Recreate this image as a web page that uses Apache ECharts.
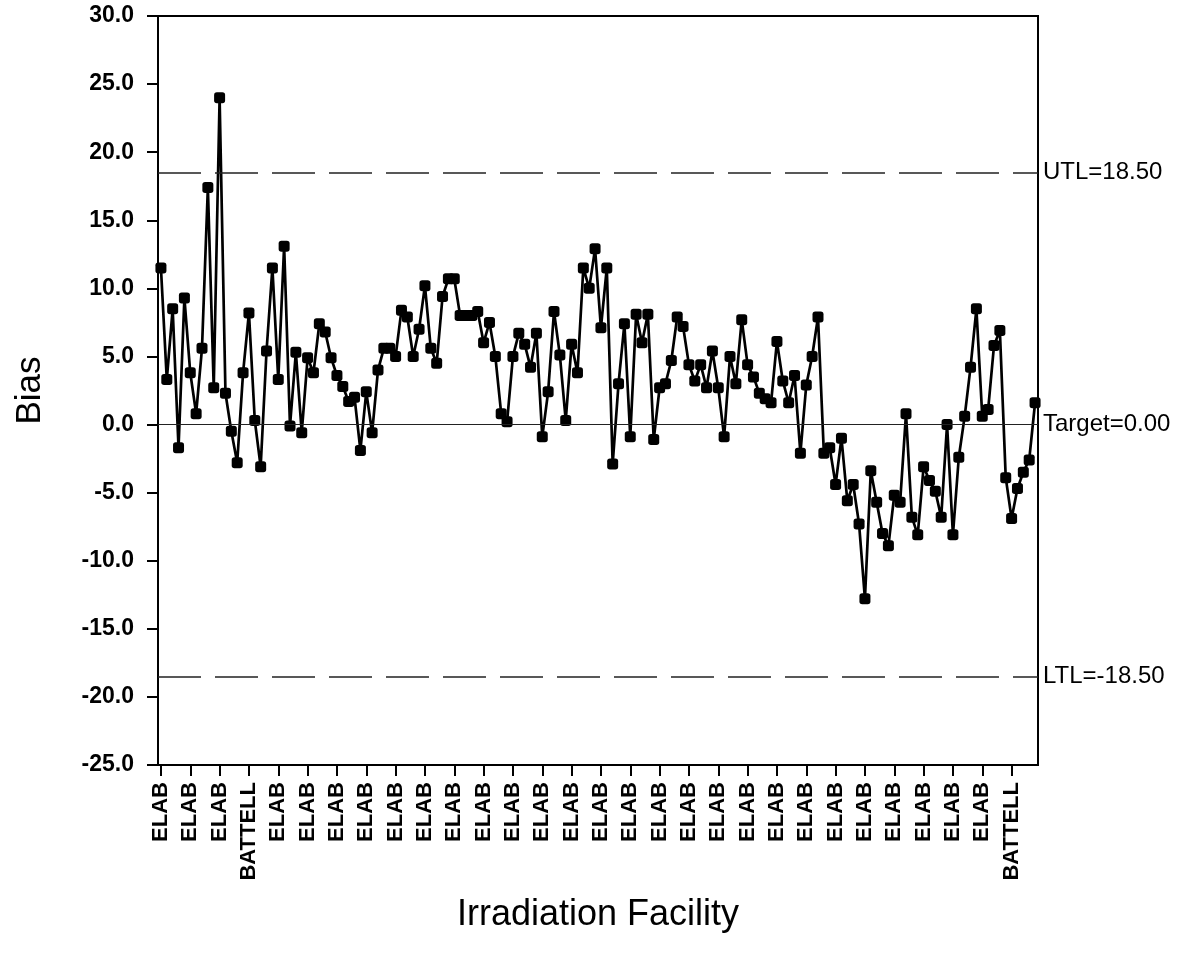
<!DOCTYPE html>
<html>
<head>
<meta charset="utf-8">
<script src="https://cdn.jsdelivr.net/npm/echarts@6/dist/echarts.min.js"></script>
<style>
html,body{margin:0;padding:0;background:#fff;}
#chart{width:1188px;height:963px;}
</style>
</head>
<body>
<div id="chart"></div>
<script>
// Bias values, one per irradiation run (150 runs)
const bias = [
  11.5, 3.3, 8.5, -1.7, 9.3, 3.8, 0.8, 5.6, 17.4, 2.7,
  24.0, 2.3, -0.5, -2.8, 3.8, 8.2, 0.3, -3.1, 5.4, 11.5,
  3.3, 13.1, -0.1, 5.3, -0.6, 4.9, 3.8, 7.4, 6.8, 4.9,
  3.6, 2.8, 1.7, 2.0, -1.9, 2.4, -0.6, 4.0, 5.6, 5.6,
  5.0, 8.4, 7.9, 5.0, 7.0, 10.2, 5.6, 4.5, 9.4, 10.7,
  10.7, 8.0, 8.0, 8.0, 8.3, 6.0, 7.5, 5.0, 0.8, 0.2,
  5.0, 6.7, 5.9, 4.2, 6.7, -0.9, 2.4, 8.3, 5.1, 0.3,
  5.9, 3.8, 11.5, 10.0, 12.9, 7.1, 11.5, -2.9, 3.0, 7.4,
  -0.9, 8.1, 6.0, 8.1, -1.1, 2.7, 3.0, 4.7, 7.9, 7.2,
  4.4, 3.2, 4.4, 2.7, 5.4, 2.7, -0.9, 5.0, 3.0, 7.7,
  4.4, 3.5, 2.3, 1.9, 1.6, 6.1, 3.2, 1.6, 3.6, -2.1,
  2.9, 5.0, 7.9, -2.1, -1.7, -4.4, -1.0, -5.6, -4.4, -7.3,
  -12.8, -3.4, -5.7, -8.0, -8.9, -5.2, -5.7, 0.8, -6.8, -8.1,
  -3.1, -4.1, -4.9, -6.8, 0.0, -8.1, -2.4, 0.6, 4.2, 8.5,
  0.6, 1.1, 5.8, 6.9, -3.9, -6.9, -4.7, -3.5, -2.6, 1.6
];
// Facility labels shown on every fifth run
const tickLabels = [
  'ELAB','ELAB','ELAB','BATTELL','ELAB','ELAB','ELAB','ELAB','ELAB','ELAB',
  'ELAB','ELAB','ELAB','ELAB','ELAB','ELAB','ELAB','ELAB','ELAB','ELAB',
  'ELAB','ELAB','ELAB','ELAB','ELAB','ELAB','ELAB','ELAB','ELAB','BATTELL'
];
const runIds = bias.map((_, i) => String(i + 1));
const limits = [
  { name: 'UTL', value: 18.5, label: 'UTL=18.50', dashed: true },
  { name: 'Target', value: 0, label: 'Target=0.00', dashed: false },
  { name: 'LTL', value: -18.5, label: 'LTL=-18.50', dashed: true }
];
const yTicks = { min: -25, max: 30, step: 5 };

const chart = echarts.init(document.getElementById('chart'), null, { renderer: 'canvas' });
chart.setOption({
  backgroundColor: '#ffffff',
  animation: false,
  grid: {
    left: 158, right: 150, top: 16, bottom: 198,
    show: true, borderColor: '#000', borderWidth: 2, backgroundColor: 'transparent'
  },
  xAxis: {
    type: 'category',
    data: runIds,
    boundaryGap: true,
    name: 'Irradiation Facility',
    nameLocation: 'middle',
    nameGap: 132,
    nameTextStyle: { fontFamily: 'Liberation Sans', fontSize: 36, color: '#000' },
    axisLine: { show: true, onZero: false, lineStyle: { color: '#000', width: 2 } },
    axisTick: { show: true, interval: 4, alignWithLabel: true, length: 11, lineStyle: { color: '#000', width: 2 } },
    axisLabel: {
      interval: 4,
      rotate: 90,
      margin: 17,
      fontFamily: 'Liberation Sans',
      fontWeight: 'bold',
      fontSize: 22,
      color: '#000',
      formatter: (v, idx) => tickLabels[Math.floor(idx / 5)]
    },
    splitLine: { show: false }
  },
  yAxis: {
    type: 'value',
    min: yTicks.min, max: yTicks.max, interval: yTicks.step,
    name: 'Bias',
    nameLocation: 'middle',
    nameGap: 110,
    nameTextStyle: { fontFamily: 'Liberation Sans', fontSize: 35, color: '#000' },
    axisLine: { show: true, onZero: false, lineStyle: { color: '#000', width: 2 } },
    axisTick: { show: true, length: 11, lineStyle: { color: '#000', width: 2 } },
    axisLabel: {
      margin: 24,
      fontFamily: 'Liberation Sans',
      fontWeight: 'bold',
      fontSize: 23,
      color: '#000',
      formatter: v => v.toFixed(1)
    },
    splitLine: { show: false }
  },
  series: [{
    name: 'Bias',
    type: 'line',
    data: bias,
    symbol: 'roundRect',
    symbolSize: 11,
    showAllSymbol: true,
    lineStyle: { color: '#000', width: 2.7 },
    itemStyle: { color: '#000' },
    markLine: {
      silent: true,
      symbol: ['none', 'none'],
      precision: 2,
      data: limits.map(l => ({
        yAxis: l.value,
        lineStyle: { color: '#222', width: l.dashed ? 1.5 : 1, type: l.dashed ? [43, 14] : 'solid' },
        label: {
          show: true, position: 'end', distance: 5,
          formatter: l.label,
          fontFamily: 'Liberation Sans', fontSize: 24, color: '#000'
        }
      }))
    },
    z: 3
  }]
});
</script>
</body>
</html>
